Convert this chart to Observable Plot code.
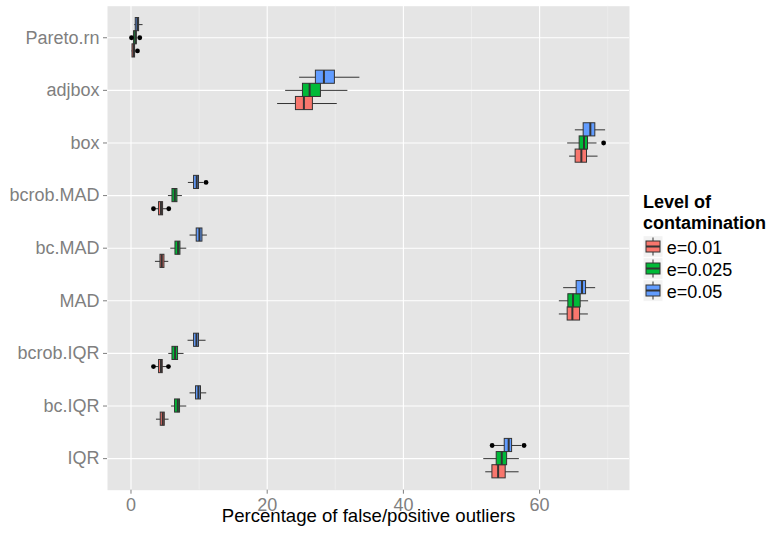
<!DOCTYPE html>
<html><head><meta charset="utf-8">
<script src="https://cdn.jsdelivr.net/npm/d3@7"></script>
<script src="https://cdn.jsdelivr.net/npm/@observablehq/plot@0.6"></script>
<style>
body{margin:0;background:#fff;font-family:"Liberation Sans",Arial,Helvetica,sans-serif;}
#wrap{position:relative;width:775px;height:535px;}
#wrap svg{position:absolute;top:0;}
</style></head><body><div id="wrap"></div>
<script>
const methods = ["Pareto.rn","adjbox","box","bcrob.MAD","bc.MAD","MAD","bcrob.IQR","bc.IQR","IQR"];
const levels = ["e=0.01","e=0.025","e=0.05"];
const levelColors = ["#F8766D","#00BA38","#619CFF"];
const xTicks = [0, 20, 40, 60];
const xMinorTicks = [10, 30, 50, 70];
const axisTitle = "Percentage of false/positive outliers";
const legendTitle = ["Level of", "contamination"];

// [lower whisker, q1, median, q3, upper whisker], one row per method
const stats_e001 = [
  [0.15, 0.22, 0.40, 0.60, 0.70],
  [21.53, 24.22, 25.39, 26.71, 30.29],
  [64.41, 65.29, 66.13, 66.96, 68.58],
  [3.45, 4.12, 4.40, 4.71, 5.40],
  [3.59, 4.33, 4.52, 4.91, 5.55],
  [62.90, 64.12, 64.81, 65.94, 67.16],
  [3.45, 4.12, 4.40, 4.66, 5.35],
  [3.74, 4.37, 4.66, 4.96, 5.59],
  [52.09, 53.07, 53.91, 55.02, 56.99]
];
const stats_e0025 = [
  [0.30, 0.45, 0.65, 0.85, 1.00],
  [22.71, 25.25, 26.23, 27.89, 31.85],
  [64.12, 65.88, 66.52, 67.11, 68.43],
  [5.50, 6.09, 6.43, 6.82, 7.55],
  [5.84, 6.53, 6.91, 7.26, 8.19],
  [62.90, 64.22, 64.91, 66.03, 67.20],
  [5.55, 6.09, 6.47, 6.91, 7.79],
  [5.94, 6.47, 6.87, 7.20, 8.19],
  [51.80, 53.70, 54.44, 55.23, 57.03]
];
const stats_e005 = [
  [0.55, 0.70, 0.95, 1.19, 1.77],
  [24.76, 27.15, 28.33, 29.94, 33.61],
  [65.25, 66.47, 67.45, 68.18, 69.69],
  [8.43, 9.26, 9.65, 9.99, 10.72],
  [8.67, 9.65, 10.05, 10.49, 11.22],
  [63.53, 65.44, 66.23, 66.82, 68.23],
  [8.38, 9.26, 9.61, 9.99, 11.02],
  [8.67, 9.55, 9.90, 10.28, 11.12],
  [53.30, 54.88, 55.46, 55.96, 57.40]
];
const outlierMethod = ["Pareto.rn","Pareto.rn","Pareto.rn","box","bcrob.MAD","bcrob.MAD","bcrob.MAD","bcrob.IQR","bcrob.IQR","IQR","IQR"];
const outlierLevel  = ["e=0.01","e=0.025","e=0.025","e=0.025","e=0.01","e=0.01","e=0.05","e=0.01","e=0.01","e=0.05","e=0.05"];
const outlierValue  = [0.95, 0.07, 1.29, 69.4, 3.30, 5.55, 11.02, 3.30, 5.50, 53.03, 57.72];

const dodge = j => (1 - j) * 0.25;
const half = 0.125;
const rows = [];
[stats_e001, stats_e0025, stats_e005].forEach((S, j) => S.forEach((s, i) => rows.push({
  method: methods[i], level: levels[j], pos: i + dodge(j),
  lo: s[0], q1: s[1], med: s[2], q3: s[3], hi: s[4]
})));
const outs = outlierValue.map((v, k) => ({
  level: outlierLevel[k],
  pos: methods.indexOf(outlierMethod[k]) + dodge(levels.indexOf(outlierLevel[k])),
  value: v
}));

const font = '"Liberation Sans", Arial, Helvetica, sans-serif';
const chart = Plot.plot({
  width: 635, height: 535,
  marginLeft: 107, marginRight: 6, marginTop: 5.7, marginBottom: 45.3,
  style: {fontFamily: font, fontSize: "18px", background: "transparent"},
  x: {domain: [-3.45, 73.2]},
  y: {domain: [-0.6, methods.length - 0.4], reverse: true},
  color: {domain: levels, range: levelColors},
  marks: [
    Plot.frame({fill: "#E5E5E5", stroke: null}),
    Plot.ruleX(xMinorTicks, {stroke: "#F2F2F2", strokeWidth: 0.6}),
    Plot.ruleX(xTicks, {stroke: "white", strokeWidth: 1.1}),
    Plot.ruleY(d3.range(methods.length), {stroke: "white", strokeWidth: 1.1}),
    Plot.ruleY(rows, {y: "pos", x1: "lo", x2: "hi", stroke: "#333333", strokeWidth: 1}),
    Plot.rect(rows, {x1: "q1", x2: "q3", y1: d => d.pos - half, y2: d => d.pos + half, fill: "level", stroke: "#333333", strokeWidth: 1}),
    Plot.ruleX(rows, {x: "med", y1: d => d.pos - half, y2: d => d.pos + half, stroke: "#333333", strokeWidth: 2}),
    Plot.dot(outs, {x: "value", y: "pos", r: 2.4, fill: "black", stroke: null}),
    Plot.axisX({ticks: xTicks, tickSize: 4, tickPadding: 4, color: "#7F7F7F", fontSize: 18, label: null}),
    Plot.axisY({ticks: d3.range(methods.length), tickFormat: i => methods[i], tickSize: 4, tickPadding: 4, color: "#7F7F7F", fontSize: 18, label: null}),
    Plot.text([axisTitle], {text: d => d, frameAnchor: "bottom", dy: 31.4, fill: "black", fontSize: 18.6})
  ]
});
chart.style.left = "0px";
document.getElementById("wrap").appendChild(chart);

// legend
const lg = d3.select("#wrap").append("svg")
  .attr("width", 140).attr("height", 535).style("left", "635px")
  .style("font-family", font);
legendTitle.forEach((t, k) => lg.append("text").attr("x", 8).attr("y", 208 + k * 21)
  .attr("font-size", 18).attr("font-weight", "bold").attr("fill", "black").text(t));
levels.forEach((lv, j) => {
  const cy = 246.5 + j * 22;
  const g = lg.append("g");
  g.append("rect").attr("x", 8).attr("y", cy - 10.8).attr("width", 20).attr("height", 21.6)
    .attr("fill", "#F2F2F2").attr("stroke", "white");
  g.append("line").attr("x1", 18).attr("x2", 18).attr("y1", cy - 9).attr("y2", cy + 9).attr("stroke", "#333");
  g.append("rect").attr("x", 11).attr("y", cy - 5.5).attr("width", 14).attr("height", 11)
    .attr("fill", levelColors[j]).attr("stroke", "#333");
  g.append("line").attr("x1", 11).attr("x2", 25).attr("y1", cy).attr("y2", cy).attr("stroke", "#333").attr("stroke-width", 2);
  lg.append("text").attr("x", 31.7).attr("y", cy + 7).attr("font-size", 18).attr("fill", "black").text(lv);
});
</script></body></html>
